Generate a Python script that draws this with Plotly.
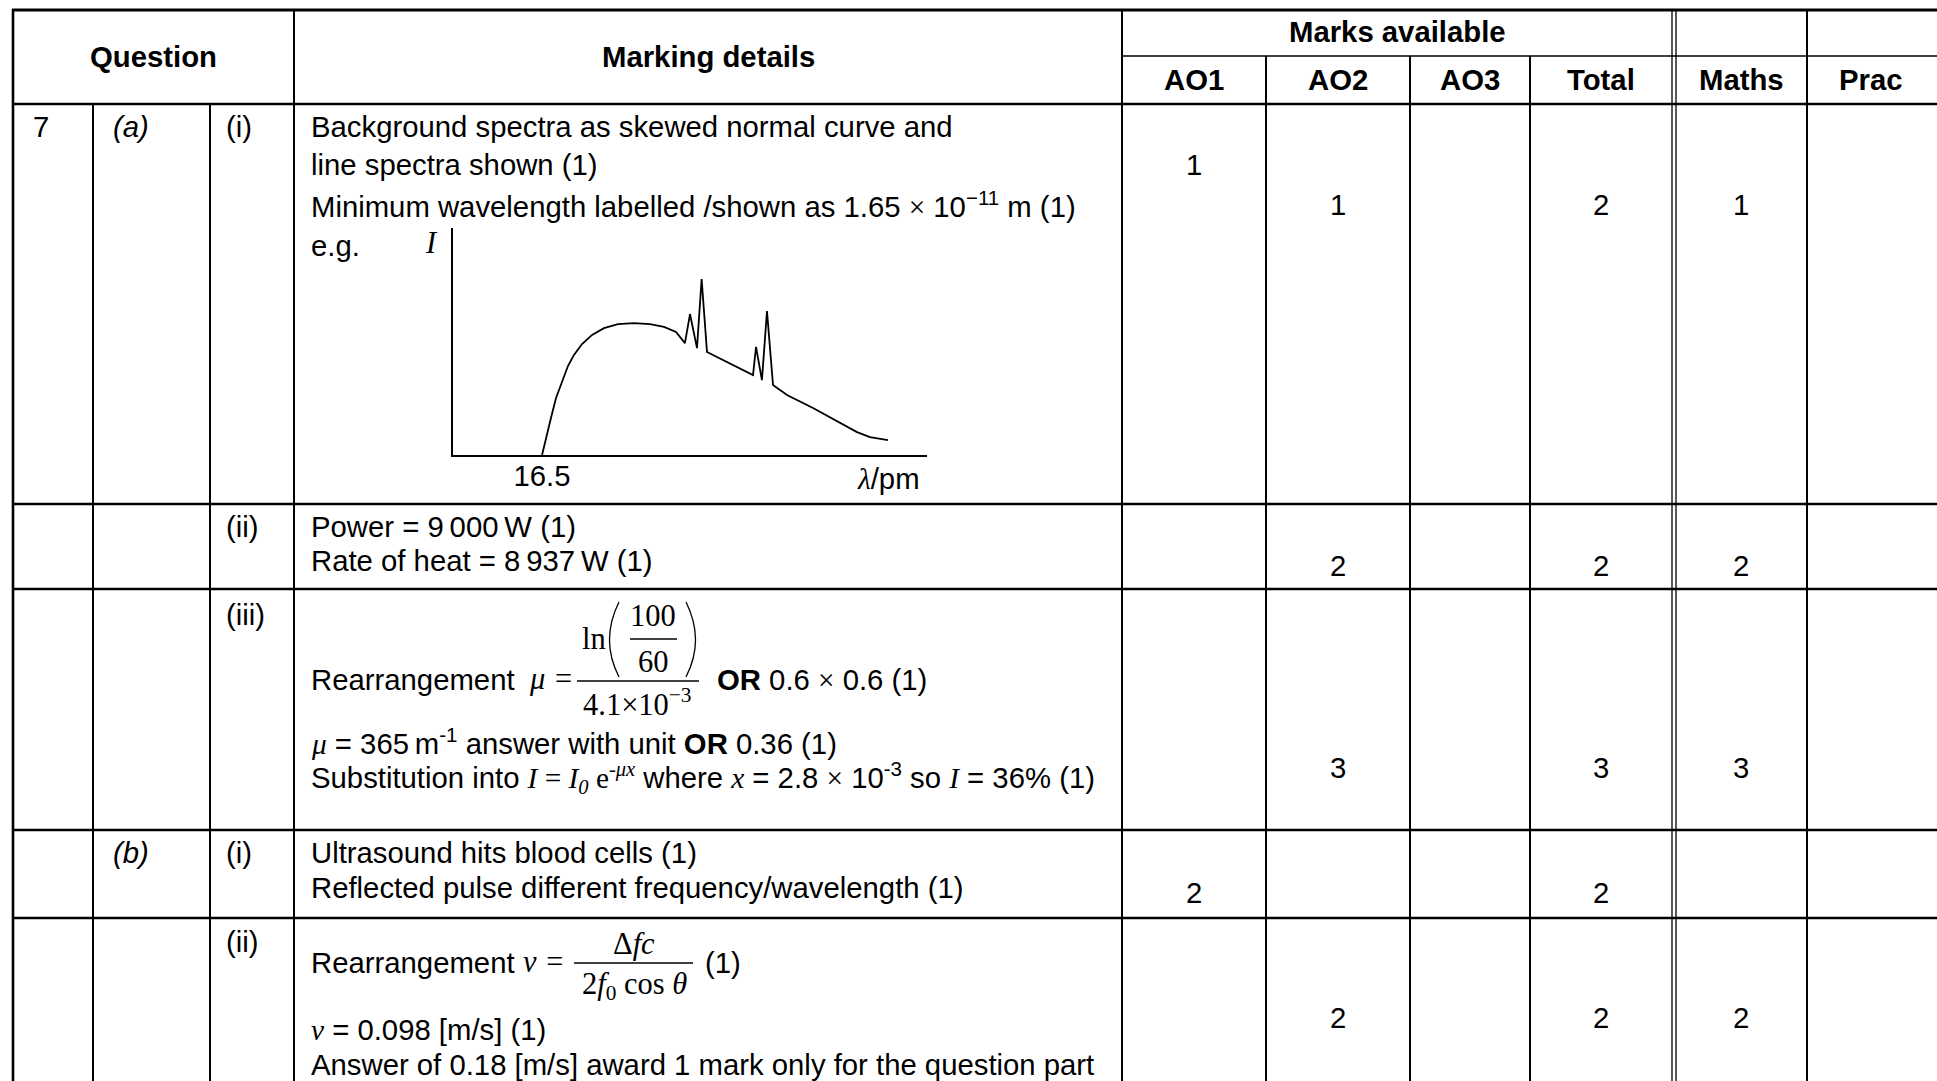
import plotly.graph_objects as go

W, H = 1937, 1081
SANS = "Liberation Sans, Arial, sans-serif"
SERIF = "Liberation Serif, Times New Roman, serif"
FS = 29.3
MS = 30.5  # maths (serif) size

# ---------------- table data ----------------
header_question = "Question"
header_details = "Marking details"
header_marks = "Marks available"
mark_cols = ["AO1", "AO2", "AO3", "Total", "Maths", "Prac"]

question_nums = ["7", "", "", "", ""]
question_parts = ["(a)", "", "", "(b)", ""]
question_subparts = ["(i)", "(ii)", "(iii)", "(i)", "(ii)"]

ao1 = ["1", "", "", "2", ""]
ao2 = ["1", "2", "3", "", "2"]
ao3 = ["", "", "", "", ""]
total = ["2", "2", "3", "2", "2"]
maths = ["1", "2", "3", "", "2"]
prac = ["", "", "", "", ""]

def serif(s):
    return '<span style="font-family:%s">%s</span>' % (SERIF, s)

details_a_i = [
    "Background spectra as skewed normal curve and",
    "line spectra shown (1)",
    "Minimum wavelength labelled /shown as 1.65 " + serif("×") + " 10<sup>−11</sup> m (1)",
    "e.g.",
]
details_a_ii = [
    "Power = 9\u2009000\u2009W (1)",
    "Rate of heat = 8\u2009937\u2009W (1)",
]
details_a_iii = [
    "Rearrangement",
    "<b>OR</b> 0.6 " + serif("×") + " 0.6 (1)",
    serif("<i>μ</i>") + " = 365\u2009m<sup>-1</sup> answer with unit <b>OR</b> 0.36 (1)",
    "Substitution into " + serif("<i>I</i> = <i>I<sub>0</sub></i> e<sup>-<i>μx</i></sup>")
    + " where " + serif("<i>x</i>") + " = 2.8 " + serif("×") + " 10<sup>-3</sup> so "
    + serif("<i>I</i>") + " = 36% (1)",
]
details_b_i = [
    "Ultrasound hits blood cells (1)",
    "Reflected pulse different frequency/wavelength (1)",
]
details_b_ii = [
    "Rearrangement",
    "(1)",
    serif("<i>v</i>") + " = 0.098 [m/s] (1)",
    "Answer of 0.18 [m/s] award 1 mark only for the question part",
]

# ---------------- spectrum sketch data ----------------
wavelength_pm = [16.50, 16.79, 17.15, 17.52, 17.96, 18.39, 18.83, 19.42, 20.15, 21.02,
                 22.04, 23.21, 24.38, 25.40, 26.28, 26.93, 27.30, 27.81, 28.15, 28.54,
                 31.90, 32.12, 32.55, 32.92, 33.36, 34.38, 36.28, 38.18, 39.49, 40.44, 41.75]
intensity = [0.0, 7.9, 16.3, 25.1, 32.6, 39.2, 44.1, 48.9, 52.9, 55.9,
             57.7, 58.1, 57.7, 56.4, 54.2, 49.3, 62.1, 47.1, 77.5, 45.4,
             35.2, 47.6, 33.0, 63.4, 30.8, 26.4, 20.7, 14.5, 10.1, 7.9, 6.6]
lambda_ticks = [16.5]
lambda_ticktext = ["16.5"]

fig = go.Figure()

fig.add_trace(go.Scatter(
    x=wavelength_pm, y=intensity, mode="lines",
    line=dict(color="black", width=1.8), xaxis="x2", yaxis="y2",
    showlegend=False, hoverinfo="skip"))

# ---------------- layout geometry (pixels) ----------------
row_y = [10, 104, 504, 589, 830, 918, H + 2]
mid_y = 56

shapes = []

def hline(y, x0, x1, w):
    shapes.append(dict(type="line", xref="x", yref="y", x0=x0, x1=x1, y0=y, y1=y,
                       line=dict(color="black", width=w), layer="above"))

def vline(x, y0, y1, w):
    shapes.append(dict(type="line", xref="x", yref="y", x0=x, x1=x, y0=y0, y1=y1,
                       line=dict(color="black", width=w), layer="above"))

hline(10, 12, W + 2, 3)
hline(mid_y, 1122, W + 2, 1.6)
for y in row_y[1:-1]:
    hline(y, 12, W + 2, 2.6)
vline(13, 9, H + 2, 2.6)
vline(93, 104, H + 2, 2)
vline(210, 104, H + 2, 2)
vline(294, 9, H + 2, 2)
vline(1122, 9, H + 2, 2)
for x in (1266, 1410, 1530):
    vline(x, mid_y, H + 2, 2)
vline(1672, 9, H + 2, 1.3)
vline(1676, 9, H + 2, 1.3)
vline(1807, 9, H + 2, 2)

# fraction bars and brackets
hline(681, 577, 699, 1.3)
hline(639, 630, 677, 1.3)
hline(963, 574, 693, 1.3)
shapes.append(dict(type="path", xref="x", yref="y", path="M 619 602 Q 600 640 619 677",
                   line=dict(color="black", width=1.3), layer="above"))
shapes.append(dict(type="path", xref="x", yref="y", path="M 686 602 Q 705 640 686 677",
                   line=dict(color="black", width=1.3), layer="above"))

annotations = []

def txt(x, y, s, anchor="left", size=FS, family=SANS, bold=False, italic=False):
    font = dict(family=family, size=size, color="black")
    if bold:
        font["weight"] = "bold"
    if italic:
        font["style"] = "italic"
    annotations.append(dict(x=x, y=y, xref="x", yref="y", text=s, showarrow=False,
                            xanchor=anchor, yanchor="middle", font=font))

# headers
txt(153, 56, header_question, "center", bold=True)
txt(708, 56, header_details, "center", bold=True)
txt(1397, 31, header_marks, "center", bold=True)
hdr_cx = [1194, 1338, 1470, 1601, 1741, 1871]
for cx, name in zip(hdr_cx, mark_cols):
    txt(cx, 79, name, "center", bold=True)

# question labels
label_y = [126, 526, 614, 852, 941]
for y, n, p, sp in zip(label_y, question_nums, question_parts, question_subparts):
    if n:
        txt(31, y, n)
    if p:
        txt(111, y, p, italic=True)
    txt(224, y, sp)

# marking details text
for y, s in zip([126, 164, 204, 245], details_a_i):
    txt(309, y, s)
txt(431, 243, "I", "center", size=MS, family=SERIF, italic=True)
txt(855, 478, serif("<i>λ</i>") + "/pm")

for y, s in zip([526, 560], details_a_ii):
    txt(309, y, s)

txt(309, 679, details_a_iii[0])
txt(527, 679, "μ =", size=MS, family=SERIF, italic=True)
txt(594, 639, "ln", "center", size=MS, family=SERIF)
txt(653, 616, "100", "center", size=MS, family=SERIF)
txt(653, 662, "60", "center", size=MS, family=SERIF)
txt(637, 702, "4.1×10<sup>−3</sup>", "center", size=MS, family=SERIF)
txt(715, 679, details_a_iii[1])
txt(309, 741, details_a_iii[2])
txt(309, 777, details_a_iii[3])

for y, s in zip([852, 887], details_b_i):
    txt(309, y, s)

txt(309, 962, details_b_ii[0])
txt(521, 962, "v =", size=MS, family=SERIF, italic=True)
txt(634, 944, "Δ<i>fc</i>", "center", size=MS, family=SERIF)
txt(634, 986, "2<i>f</i><sub>0</sub> cos <i>θ</i>", "center", size=MS, family=SERIF)
txt(703, 962, details_b_ii[1])
txt(309, 1029, details_b_ii[2])
txt(309, 1064, details_b_ii[3])

# marks
mark_rows_y = [[164, 204, 204, 204, 204, 204], [565] * 6, [767] * 6, [892] * 6, [1017] * 6]
for i, row_vals in enumerate(zip(ao1, ao2, ao3, total, maths, prac)):
    for j, v in enumerate(row_vals):
        if v:
            txt(hdr_cx[j], mark_rows_y[i][j], v, "center")

fig.update_layout(
    width=W, height=H, margin=dict(l=0, r=0, t=0, b=0),
    paper_bgcolor="white", plot_bgcolor="rgba(0,0,0,0)",
    font=dict(family=SANS, size=FS, color="black"),
    xaxis=dict(range=[0, W], visible=False, domain=[0, 1], fixedrange=True),
    yaxis=dict(range=[H, 0], visible=False, domain=[0, 1], fixedrange=True),
    xaxis2=dict(domain=[453 / W, 927 / W], anchor="y2", range=[10, 44.6],
                showline=True, linecolor="black", linewidth=2, showgrid=False,
                zeroline=False, ticks="", tickvals=lambda_ticks, ticktext=lambda_ticktext,
                ticklabelstandoff=-6,
                tickfont=dict(family=SANS, size=FS, color="black"), fixedrange=True),
    yaxis2=dict(domain=[(H - 455) / H, (H - 228) / H], anchor="x2", range=[0, 100],
                showline=True, linecolor="black", linewidth=2, showgrid=False,
                zeroline=False, ticks="", showticklabels=False, fixedrange=True),
    shapes=shapes, annotations=annotations, showlegend=False,
)

fig.write_html("out.html", config={"displayModeBar": False},
               post_script="document.body.style.margin='0';document.body.style.overflow='hidden';")
